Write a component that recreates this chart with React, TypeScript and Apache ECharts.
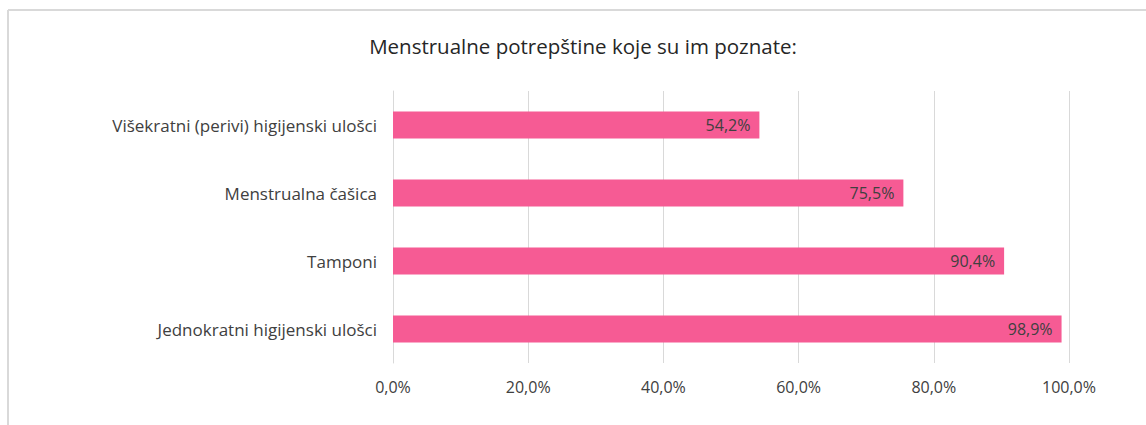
import React, { useEffect, useRef } from "react";
import * as echarts from "echarts";

const title = "Menstrualne potrepštine koje su im poznate:";
const categories = [
  "Jednokratni higijenski ulošci",
  "Tamponi",
  "Menstrualna čašica",
  "Višekratni (perivi) higijenski ulošci",
];
const values = [98.9, 90.4, 75.5, 54.2];
const FONT = "'Open Sans', sans-serif";

export default function App() {
  const ref = useRef<HTMLDivElement>(null);
  useEffect(() => {
    document.body.style.margin = "0";
    const chart = echarts.init(ref.current!, null, { renderer: "svg" });
    chart.setOption({
      animation: false,
      backgroundColor: "#ffffff",
      title: {
        text: title,
        left: 578,
        textAlign: "center",
        top: 30,
        textStyle: { fontFamily: FONT, fontSize: 20.5, fontWeight: "normal", color: "#262626" },
      },
      graphic: [
        { type: "line", shape: { x1: 8, y1: 10, x2: 1146, y2: 10 }, style: { stroke: "#d9d9d9", lineWidth: 2 } },
        { type: "line", shape: { x1: 8, y1: 10, x2: 8, y2: 425 }, style: { stroke: "#d9d9d9", lineWidth: 2 } },
      ],
      grid: { left: 393, right: 77, top: 91, bottom: 62 },
      xAxis: {
        type: "value",
        min: 0,
        max: 100,
        interval: 20,
        axisLine: { show: false },
        axisTick: { show: false },
        splitLine: { lineStyle: { color: "#d9d9d9", width: 1 } },
        axisLabel: {
          formatter: (v: number) => v.toFixed(1).replace(".", ",") + "%",
          fontFamily: FONT,
          fontSize: 16,
          color: "#404040",
          margin: 16,
        },
      },
      yAxis: {
        type: "category",
        data: categories,
        axisLine: { show: true, lineStyle: { color: "#d9d9d9" } },
        axisTick: { show: false },
        axisLabel: { fontFamily: FONT, fontSize: 17, color: "#404040", margin: 16 },
      },
      series: [
        {
          type: "bar",
          data: values,
          barWidth: 27,
          itemStyle: { color: "#F65B94" },
          label: {
            show: true,
            position: "insideRight",
            distance: 9,
            formatter: (p: any) => p.value.toFixed(1).replace(".", ",") + "%",
            fontFamily: FONT,
            fontSize: 16,
            color: "#404040",
          },
        },
      ],
    });
    return () => chart.dispose();
  }, []);
  return <div ref={ref} style={{ width: 1146, height: 425 }} />;
}
